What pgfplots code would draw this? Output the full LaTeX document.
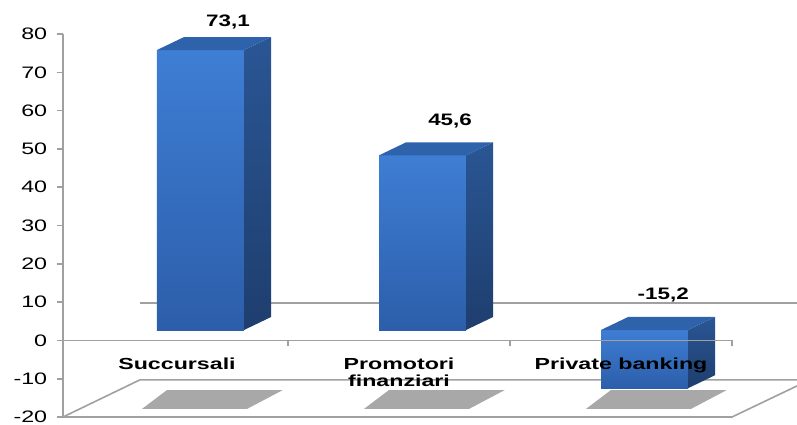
\documentclass[border=0pt]{standalone}
\usepackage{pgfplots}
\pgfplotsset{compat=1.18}
\usepackage{fontspec}
\setmainfont{Liberation Sans}
\definecolor{frontTop}{RGB}{62,126,212}
\definecolor{frontBot}{RGB}{44,94,170}
\definecolor{sideTop}{RGB}{42,86,148}
\definecolor{sideBot}{RGB}{30,62,110}
\definecolor{topFace}{RGB}{46,98,170}
\definecolor{axgray}{RGB}{160,160,160}
\definecolor{shadowgray}{RGB}{168,168,168}
\begin{document}
\begin{tikzpicture}[x=1pt,y=1pt]
\useasboundingbox (0,0) rectangle (398.5,212);
\clip (0,0) rectangle (398.5,212);
\begin{axis}[
  at={(31.5pt,3.5pt)}, anchor=south west,
  scale only axis, width=334.5pt, height=191.5pt,
  xmin=-0.5135, xmax=2.5, ymin=-20, ymax=80,
  clip=false, axis on top,
  axis x line=middle, axis y line=left,
  axis line style={-, draw=axgray, line width=0.8pt},
  ytick={-20,-10,...,80},
  xtick={0.5,1.5,2.5}, xticklabels={},
  extra x ticks={0,1,2},
  extra x tick labels={Succursali,{Promotori\\finanziari},Private banking},
  extra x tick style={major tick length=0pt,
    xticklabel style={font=\bfseries\fontsize{8}{8.5}\selectfont, align=center, xscale=1.45, text=black, yshift=-5pt}},
  tick style={draw=axgray, line width=0.8pt},
  major tick length=3pt,
  tick align=outside,
  /pgf/number format/assume math mode=true,
  yticklabel style={font=\fontsize{8.3}{10}\selectfont, xscale=1.4, text=black},
  bar3d/.style={xshift=11.75pt, yshift=5.2pt, draw=none, forget plot},
]
% floor
\addplot[draw=axgray, line width=0.8pt, forget plot] coordinates {(-0.5135,-20) (2.5,-20) (2.85,-10.3)};
\addplot[draw=axgray, line width=0.8pt, forget plot] coordinates {(-0.5135,-20) (-0.167,-10.3) (2.85,-10.3)};
% back wall line
\addplot[draw=axgray, line width=0.8pt, forget plot] coordinates {(-0.167,9.76) (2.85,9.76)};
% shadows
\addplot[fill=shadowgray, draw=none, forget plot] coordinates {(-0.158,-17.9) (0.315,-17.9) (0.477,-12.95) (-0.045,-12.95)};
\addplot[fill=shadowgray, draw=none, forget plot] coordinates {(0.842,-17.9) (1.315,-17.9) (1.477,-12.95) (0.955,-12.95)};
\addplot[fill=shadowgray, draw=none, forget plot] coordinates {(1.842,-17.9) (2.315,-17.9) (2.477,-12.95) (1.955,-12.95)};
% bar 1: Succursali 73.1
\addplot[ybar, bar width=43.5pt, bar shift=0pt, bar3d, top color=frontTop, bottom color=frontBot] coordinates {(0,73.1)};
\addplot[bar3d, top color=sideTop, bottom color=sideBot] coordinates {(0.196,0) (0.318,3.4) (0.318,76.5) (0.196,73.1)};
\addplot[bar3d, fill=topFace] coordinates {(-0.196,73.1) (0.196,73.1) (0.318,76.5) (-0.074,76.5)};
% bar 2: Promotori finanziari 45.6
\addplot[ybar, bar width=43.5pt, bar shift=0pt, bar3d, top color=frontTop, bottom color=frontBot] coordinates {(1,45.6)};
\addplot[bar3d, top color=sideTop, bottom color=sideBot] coordinates {(1.196,0) (1.318,3.4) (1.318,49) (1.196,45.6)};
\addplot[bar3d, fill=topFace] coordinates {(0.804,45.6) (1.196,45.6) (1.318,49) (0.926,49)};
% bar 3: Private banking -15.2
\addplot[ybar, bar width=43.5pt, bar shift=0pt, bar3d, top color=frontTop, bottom color=frontBot] coordinates {(2,-15.2)};
\addplot[bar3d, top color=sideTop, bottom color=sideBot] coordinates {(2.196,-15.2) (2.318,-11.8) (2.318,3.4) (2.196,0)};
\addplot[bar3d, fill=topFace] coordinates {(1.804,0) (2.196,0) (2.318,3.4) (1.926,3.4)};
% value labels
\addplot[draw=none, mark=none, point meta=explicit,
  nodes near coords={\pgfmathprintnumber[fixed,precision=1,fixed zerofill,use comma]{\pgfplotspointmeta}},
  every node near coord/.style={anchor=center, font=\bfseries\fontsize{8.3}{10}\selectfont, xscale=1.35, text=black}]
  coordinates {(0.23,83.1)[73.1] (1.23,57.3)[45.6] (2.19,11.9)[-15.2]};
\end{axis}
\end{tikzpicture}
\end{document}
